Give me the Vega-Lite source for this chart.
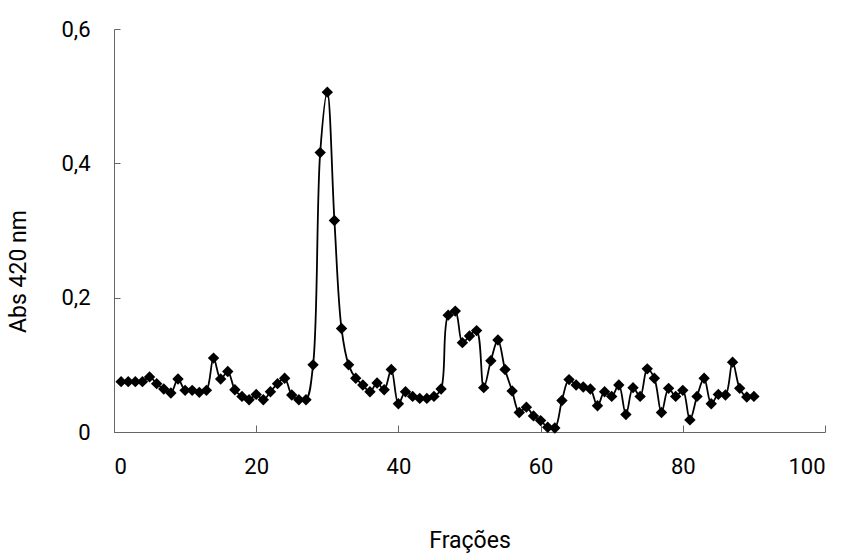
{
  "$schema": "https://vega.github.io/schema/vega-lite/v6.json",
  "width": 711,
  "height": 403,
  "autosize": "none",
  "padding": {"left": 114, "top": 29, "right": 23, "bottom": 122},
  "background": "white",
  "config": {
    "view": {"stroke": null},
    "font": "Roboto",
    "axis": {
      "grid": false,
      "domainColor": "#666666",
      "tickColor": "#666666",
      "labelFont": "Roboto",
      "titleFont": "Roboto",
      "labelFontSize": 22,
      "titleFontSize": 23,
      "labelColor": "#000000",
      "titleColor": "#000000",
      "titleFontWeight": "normal"
    }
  },
  "data": {
    "values": [
      {"f": 1, "abs": 0.075}, {"f": 2, "abs": 0.075}, {"f": 3, "abs": 0.075}, {"f": 4, "abs": 0.075},
      {"f": 5, "abs": 0.082}, {"f": 6, "abs": 0.072}, {"f": 7, "abs": 0.064}, {"f": 8, "abs": 0.058},
      {"f": 9, "abs": 0.079}, {"f": 10, "abs": 0.062}, {"f": 11, "abs": 0.062}, {"f": 12, "abs": 0.059},
      {"f": 13, "abs": 0.062}, {"f": 14, "abs": 0.11}, {"f": 15, "abs": 0.079}, {"f": 16, "abs": 0.09},
      {"f": 17, "abs": 0.063}, {"f": 18, "abs": 0.053}, {"f": 19, "abs": 0.048}, {"f": 20, "abs": 0.056},
      {"f": 21, "abs": 0.048}, {"f": 22, "abs": 0.06}, {"f": 23, "abs": 0.072}, {"f": 24, "abs": 0.08},
      {"f": 25, "abs": 0.055}, {"f": 26, "abs": 0.048}, {"f": 27, "abs": 0.048}, {"f": 28, "abs": 0.1},
      {"f": 29, "abs": 0.416}, {"f": 30, "abs": 0.506}, {"f": 31, "abs": 0.315}, {"f": 32, "abs": 0.154},
      {"f": 33, "abs": 0.1}, {"f": 34, "abs": 0.08}, {"f": 35, "abs": 0.07}, {"f": 36, "abs": 0.06},
      {"f": 37, "abs": 0.073}, {"f": 38, "abs": 0.063}, {"f": 39, "abs": 0.093}, {"f": 40, "abs": 0.042},
      {"f": 41, "abs": 0.06}, {"f": 42, "abs": 0.053}, {"f": 43, "abs": 0.05}, {"f": 44, "abs": 0.05},
      {"f": 45, "abs": 0.053}, {"f": 46, "abs": 0.064}, {"f": 47, "abs": 0.174}, {"f": 48, "abs": 0.18},
      {"f": 49, "abs": 0.133}, {"f": 50, "abs": 0.143}, {"f": 51, "abs": 0.151}, {"f": 52, "abs": 0.066},
      {"f": 53, "abs": 0.106}, {"f": 54, "abs": 0.137}, {"f": 55, "abs": 0.093}, {"f": 56, "abs": 0.061},
      {"f": 57, "abs": 0.029}, {"f": 58, "abs": 0.037}, {"f": 59, "abs": 0.024}, {"f": 60, "abs": 0.017},
      {"f": 61, "abs": 0.007}, {"f": 62, "abs": 0.006}, {"f": 63, "abs": 0.047}, {"f": 64, "abs": 0.078},
      {"f": 65, "abs": 0.07}, {"f": 66, "abs": 0.067}, {"f": 67, "abs": 0.064}, {"f": 68, "abs": 0.039},
      {"f": 69, "abs": 0.06}, {"f": 70, "abs": 0.053}, {"f": 71, "abs": 0.07}, {"f": 72, "abs": 0.026},
      {"f": 73, "abs": 0.066}, {"f": 74, "abs": 0.053}, {"f": 75, "abs": 0.094}, {"f": 76, "abs": 0.08},
      {"f": 77, "abs": 0.029}, {"f": 78, "abs": 0.065}, {"f": 79, "abs": 0.053}, {"f": 80, "abs": 0.062},
      {"f": 81, "abs": 0.018}, {"f": 82, "abs": 0.053}, {"f": 83, "abs": 0.08}, {"f": 84, "abs": 0.042},
      {"f": 85, "abs": 0.056}, {"f": 86, "abs": 0.055}, {"f": 87, "abs": 0.104}, {"f": 88, "abs": 0.065},
      {"f": 89, "abs": 0.052}, {"f": 90, "abs": 0.053}
    ]
  },
  "encoding": {
    "x": {
      "field": "f", "type": "quantitative",
      "scale": {"domain": [0, 100], "nice": false, "zero": false},
      "axis": {"values": [0, 20, 40, 60, 80, 100], "title": "Frações", "tickSize": -7, "labelPadding": 31, "titlePadding": 52}
    },
    "y": {
      "field": "abs", "type": "quantitative",
      "scale": {"domain": [0, 0.6], "nice": false},
      "axis": {"values": [0, 0.2, 0.4, 0.6], "format": ".1~f", "title": "Abs  420 nm", "tickSize": -6, "labelPadding": 30,
        "labelExpr": "replace(datum.label, '.', ',')", "titlePadding": 30, "titleY": 242}
    }
  },
  "layer": [
    {"mark": {"type": "line", "interpolate": "catmull-rom", "color": "#000000", "strokeWidth": 1.8}},
    {"mark": {"type": "point", "shape": "diamond", "filled": true, "color": "#000000", "opacity": 1, "size": 130}}
  ]
}
